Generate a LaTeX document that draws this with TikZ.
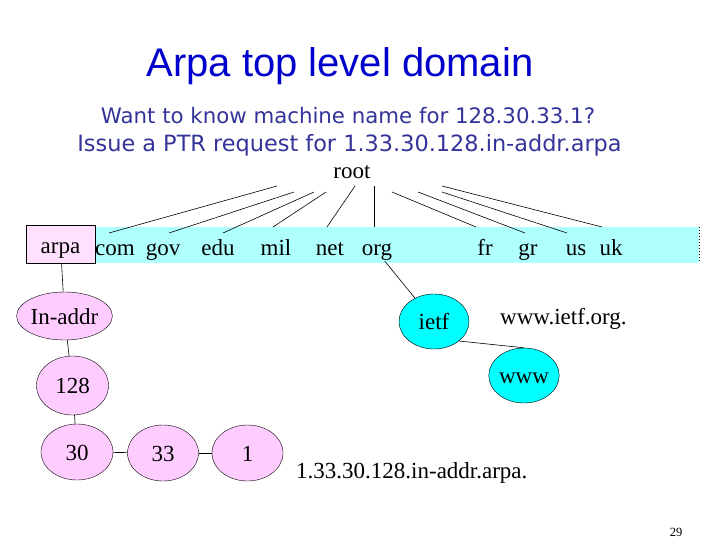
\documentclass[tikz,border=0pt]{standalone}
\usepackage{fontspec}
\setmainfont{Liberation Serif}
\newfontfamily\titlefont{Liberation Sans}
\newfontfamily\subfont{DejaVu Sans}
\usetikzlibrary{shapes.geometric}
\definecolor{titleblue}{RGB}{0,0,204}
\definecolor{subblue}{RGB}{51,51,153}
\definecolor{bandcyan}{RGB}{175,255,255}
\definecolor{boxpink}{RGB}{255,225,255}
\definecolor{ellpink}{RGB}{255,204,255}
\definecolor{ellcyan}{RGB}{0,255,255}
\tikzset{
  lbl/.style={font=\fontsize{23}{27}\selectfont, inner sep=1pt},
  bandlbl/.style={lbl, anchor=base},
  ellbase/.style={ellipse, draw, inner sep=0pt, text height=16pt, text depth=0pt, font=\fontsize{23}{27}\selectfont},
  pinkell/.style={ellbase, fill=ellpink},
  cyanell/.style={ellbase, fill=ellcyan, minimum width=70pt, minimum height=55pt},
  edge/.style={draw, line width=0.6pt},
  subline/.style={text=subblue, anchor=base, inner sep=0pt},
}
\begin{document}
\begin{tikzpicture}[x=1pt,y=-1pt]
\useasboundingbox (0,0) rectangle (720,540);
% title
\node[font=\titlefont\fontsize{40}{46}\selectfont, text=titleblue, anchor=base, inner sep=0pt] (title) at (340,77) {Arpa top level domain};
\node[subline, font=\subfont\fontsize{21.3}{25}\selectfont] (sub1) at (348,124) {Want to know machine name for 128.30.33.1?};
\node[subline, font=\subfont\fontsize{22.4}{26}\selectfont] (sub2) at (349.5,152) {Issue a PTR request for 1.33.30.128.in-addr.arpa};
\node[lbl, anchor=base] (root) at (352,179) {root};
% band
\fill[bandcyan] (95,227) rectangle (699,263);
\draw[dotted, line width=1pt] (699,227) -- (699,263);
\node[draw, fill=boxpink, minimum width=69pt, minimum height=38pt, inner sep=0pt, text height=20pt, text depth=2pt, font=\fontsize{23}{27}\selectfont] (arpa) at (60.5,244) {arpa};
\node[bandlbl] (com) at (115,255) {com};
\node[bandlbl] (gov) at (163,255) {gov};
\node[bandlbl] (edu) at (218,255) {edu};
\node[bandlbl] (mil) at (276,255) {mil};
\node[bandlbl] (net) at (330,255) {net};
\node[bandlbl] (org) at (377,255) {org};
\node[bandlbl] (fr) at (485,255) {fr};
\node[bandlbl] (gr) at (528,255) {gr};
\node[bandlbl] (us) at (576,255) {us};
\node[bandlbl] (uk) at (611,255) {uk};
% root lines
\coordinate (ta) at (277,186); \coordinate (ba) at (109,233);
\coordinate (tb) at (294,192); \coordinate (bb) at (169,233);
\coordinate (tc) at (314,192); \coordinate (bc) at (223,233);
\coordinate (td) at (326,192); \coordinate (bd) at (273,227);
\coordinate (te) at (355,186); \coordinate (be) at (327,227);
\coordinate (tf) at (374,186); \coordinate (bf) at (374,227);
\coordinate (tg) at (392,192); \coordinate (bg) at (476,227);
\coordinate (th) at (418,192); \coordinate (bh) at (525,233);
\coordinate (ti) at (442,192); \coordinate (bi) at (567,233);
\coordinate (tj) at (442,186); \coordinate (bj) at (602,227);
\foreach \p in {a,b,c,d,e,f,g,h,i,j} { \draw[edge] (t\p) -- (b\p); }
% pink tree
\node[pinkell, minimum width=94pt, minimum height=48pt] (inaddr) at (64.5,316) {In-addr};
\node[pinkell, minimum width=72pt, minimum height=59pt] (n128) at (72.5,385.5) {128};
\node[pinkell, minimum width=72pt, minimum height=56pt] (n30) at (77,452) {30};
\node[pinkell, minimum width=71pt, minimum height=56pt] (n33) at (163,453) {33};
\node[pinkell, minimum width=71pt, minimum height=56pt] (n1) at (247.5,453) {1};
\draw[edge] (arpa) -- (inaddr);
\draw[edge] (inaddr) -- (n128);
\draw[edge] (n128) -- (n30);
\draw[edge] (n30) -- (n33);
\draw[edge] (n33) -- (n1);
% cyan tree
\node[cyanell] (ietf) at (434,321.5) {ietf};
\node[cyanell] (www) at (524,375.5) {www};
\draw[edge] (org) -- (ietf);
\draw[edge] (ietf.-38) -- (www.north);
% texts
\node[lbl, anchor=base west, inner sep=0pt] (wwwname) at (500,324) {www.ietf.org.};
\node[lbl, anchor=base west, inner sep=0pt] (revname) at (296,478) {1.33.30.128.in-addr.arpa.};
\node[font=\fontsize{12.5}{15}\selectfont, anchor=base, inner sep=0pt] (page) at (676,536.5) {29};
\end{tikzpicture}
\end{document}
